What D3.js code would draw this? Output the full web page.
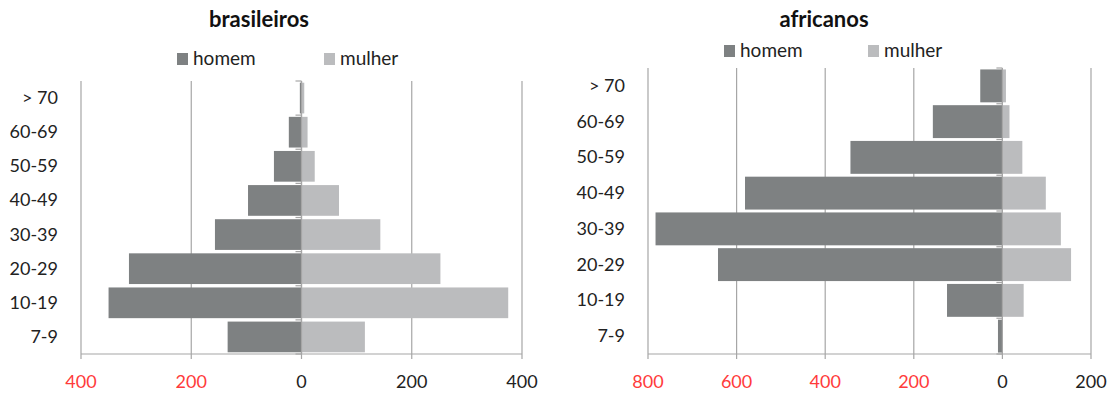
<!DOCTYPE html>
<html>
<head>
<meta charset="utf-8">
<script src="https://cdn.jsdelivr.net/npm/d3@7"></script>
<style>
  html, body { margin: 0; padding: 0; background: #fff; }
  svg { display: block; font-family: Lato, "Open Sans", sans-serif; }
</style>
</head>
<body>
<svg id="chart" width="1109" height="394"></svg>
<script>
// Age groups, top to bottom
const ageGroups = ["> 70", "60-69", "50-59", "40-49", "30-39", "20-29", "10-19", "7-9"];

// Brazilians by age group
const brMen   = [3, 23, 50, 97, 157, 313, 350, 134];
const brWomen = [5, 11, 24, 68, 143, 252, 375, 115];

// Africans by age group
const afMen   = [50, 157, 343, 581, 783, 642, 125, 10];
const afWomen = [8, 16, 45, 98, 132, 155, 48, 0];

// Axis ticks (men drawn to the left of zero)
const brTicks = [-400, -200, 0, 200, 400];
const afTicks = [-800, -600, -400, -200, 0, 200];

const seriesNames = ["homem", "mulher"];
const colorMen = "#7e8182";
const colorWomen = "#bbbcbe";
const gridColor = "#a6a6a6";
const negColor = "#ff3b3b";
const textColor = "#222";

const svg = d3.select("#chart");

function pyramid(cfg) {
  const g = svg.append("g");
  const x = d3.scaleLinear().domain(cfg.domain).range([cfg.x0, cfg.x1]);
  const y = d3.scaleBand().domain(ageGroups).range([cfg.y0, cfg.y1]).paddingInner(cfg.pad).paddingOuter(cfg.pad / 2);
  const band = d3.scaleBand().domain(ageGroups).range([cfg.y0, cfg.y1]);

  // Title
  g.append("text")
    .attr("x", cfg.titleX).attr("y", cfg.titleY)
    .attr("text-anchor", "middle")
    .attr("font-size", 22).attr("font-weight", "bold")
    .attr("fill", "#111")
    .text(cfg.title);

  // Legend
  const legend = g.selectAll("g.leg").data(seriesNames).join("g")
    .attr("transform", (d, i) => `translate(${cfg.legX[i]},${cfg.legY})`);
  legend.append("rect")
    .attr("x", 0).attr("y", -12).attr("width", 11).attr("height", 12)
    .attr("fill", (d, i) => i === 0 ? colorMen : colorWomen);
  legend.append("text")
    .attr("x", 16).attr("y", 0)
    .attr("font-size", 19).attr("fill", textColor)
    .text(d => d);

  // Vertical gridlines
  g.append("g").selectAll("line").data(cfg.ticks).join("line")
    .attr("x1", d => x(d)).attr("x2", d => x(d))
    .attr("y1", cfg.y0).attr("y2", cfg.y1 + 5)
    .attr("stroke", gridColor).attr("stroke-width", 1.2);

  // Bottom axis line
  g.append("line")
    .attr("x1", x(cfg.ticks[0])).attr("x2", x(cfg.ticks[cfg.ticks.length - 1]))
    .attr("y1", cfg.y1).attr("y2", cfg.y1)
    .attr("stroke", gridColor).attr("stroke-width", 1.2);

  // Tick labels: negative side shown in red without the sign
  g.append("g").selectAll("text").data(cfg.ticks).join("text")
    .attr("x", d => x(d)).attr("y", cfg.y1 + 34)
    .attr("text-anchor", "middle")
    .attr("font-size", 18)
    .attr("fill", d => d < 0 ? negColor : textColor)
    .text(d => Math.abs(d));

  // Category tick marks on the zero axis
  g.append("g").selectAll("line").data(ageGroups.concat(["end"])).join("line")
    .attr("x1", x(0) - 6).attr("x2", x(0))
    .attr("y1", (d, i) => cfg.y0 + i * band.bandwidth())
    .attr("y2", (d, i) => cfg.y0 + i * band.bandwidth())
    .attr("stroke", gridColor).attr("stroke-width", 1.2);

  // Bars: men
  g.append("g").selectAll("rect").data(ageGroups).join("rect")
    .attr("x", (d, i) => x(-cfg.men[i]))
    .attr("width", (d, i) => x(0) - x(-cfg.men[i]))
    .attr("y", d => y(d)).attr("height", y.bandwidth())
    .attr("fill", colorMen);

  // Bars: women
  g.append("g").selectAll("rect").data(ageGroups).join("rect")
    .attr("x", x(0))
    .attr("width", (d, i) => x(cfg.women[i]) - x(0))
    .attr("y", d => y(d)).attr("height", y.bandwidth())
    .attr("fill", colorWomen);

  // Zero axis
  g.append("line")
    .attr("x1", x(0)).attr("x2", x(0))
    .attr("y1", cfg.y0).attr("y2", cfg.y1)
    .attr("stroke", gridColor).attr("stroke-width", 1.2);

  // Category labels
  g.append("g").selectAll("text").data(ageGroups).join("text")
    .attr("x", cfg.labelX)
    .attr("y", d => band(d) + band.bandwidth() / 2 + 6)
    .attr("text-anchor", "end")
    .attr("font-size", 18).attr("fill", textColor)
    .text(d => d);
}

pyramid({
  title: "brasileiros", titleX: 259, titleY: 27,
  legX: [177, 324], legY: 65,
  domain: [-400, 400], x0: 81, x1: 522,
  y0: 81, y1: 354, pad: 0.1,
  ticks: brTicks, men: brMen, women: brWomen,
  labelX: 58
});

pyramid({
  title: "africanos", titleX: 824, titleY: 27,
  legX: [724, 868], legY: 57,
  domain: [-800, 200], x0: 648, x1: 1091,
  y0: 68, y1: 354, pad: 0.08,
  ticks: afTicks, men: afMen, women: afWomen,
  labelX: 625
});
</script>
</body>
</html>
